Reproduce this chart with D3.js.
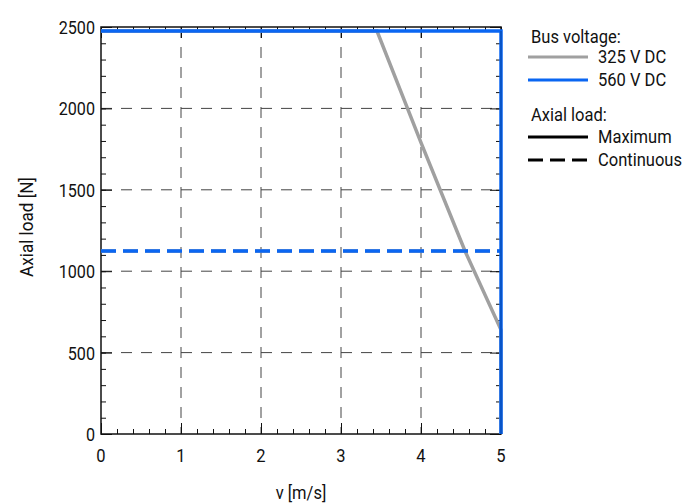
<!DOCTYPE html>
<html>
<head>
<meta charset="utf-8">
<script src="https://cdn.jsdelivr.net/npm/d3@7"></script>
<style>
  body { margin: 0; background: #fff; }
  svg text { font-family: Roboto, sans-serif; fill: #111; font-size: 19px; }
  /* narrow the text the way the condensed face in the reference looks */
  svg text.cs { transform-box: fill-box; transform-origin: left center; transform: scaleX(0.87); }
  svg text.ce { transform-box: fill-box; transform-origin: right center; transform: scaleX(0.85); }
  svg text.cm { transform-box: fill-box; transform-origin: center center; transform: scaleX(0.87); }
</style>
</head>
<body>
<svg id="chart" width="698" height="504"></svg>
<script>
// values
const xTicks = [0, 1, 2, 3, 4, 5];
const yTicks = [0, 500, 1000, 1500, 2000, 2500];

const v325Max = [[0, 2475], [3.45, 2475], [4, 1790], [4.55, 1124], [5, 640], [5, 0]];
const v325Cont = [[0, 1124], [5, 1124]];
const v560Max = [[0, 2475], [5, 2475], [5, 0]];
const v560Cont = [[0, 1124], [5, 1124]];

const legendVoltage = [
  { label: "325 V DC", color: "#a0a0a0" },
  { label: "560 V DC", color: "#0a66f2" }
];
const legendLoad = [
  { label: "Maximum", dash: null },
  { label: "Continuous", dash: "15,7" }
];

const M = { left: 101, top: 27, right: 501, bottom: 434 };
const svg = d3.select('#chart');
const x = d3.scaleLinear().domain([0, 5]).range([M.left, M.right]);
const y = d3.scaleLinear().domain([0, 2500]).range([M.bottom, M.top]);
const W = M.right - M.left, H = M.bottom - M.top;

// grid
const grid = svg.append('g');
xTicks.slice(1, -1).forEach(t => {
  grid.append('line').attr('x1', x(t)).attr('x2', x(t)).attr('y1', M.top).attr('y2', M.bottom)
    .attr('stroke', '#444').attr('stroke-dasharray', '11,9').attr('stroke-width', 1);
});
yTicks.slice(1, -1).forEach(t => {
  grid.append('line').attr('x1', M.left).attr('x2', M.right).attr('y1', y(t)).attr('y2', y(t))
    .attr('stroke', '#444').attr('stroke-dasharray', '11,9').attr('stroke-width', 1);
});

// ticks inward on all four sides
const xMinor = d3.range(0, 5.001, 0.2);
const yMinor = d3.range(0, 2500.1, 100);
const fmt = d3.format('d');

function ticks(axis, tx, ty, vals, size) {
  svg.append('g').attr('transform', `translate(${tx},${ty})`)
    .call(axis.tickValues(vals).tickSize(-size).tickFormat(''))
    .call(g => g.select('.domain').remove())
    .call(g => g.selectAll('line').attr('stroke', '#111'));
}
ticks(d3.axisBottom(x), 0, M.bottom, xMinor, 5);
ticks(d3.axisTop(x), 0, M.top, xMinor, 5);
ticks(d3.axisLeft(y), M.left, 0, yMinor, 5);
ticks(d3.axisRight(y), M.right, 0, yMinor, 5);
ticks(d3.axisBottom(x), 0, M.bottom, xTicks, 11);
ticks(d3.axisTop(x), 0, M.top, xTicks, 11);
ticks(d3.axisLeft(y), M.left, 0, yTicks, 11);
ticks(d3.axisRight(y), M.right, 0, yTicks, 11);

// tick labels
svg.append('g').selectAll('text').data(xTicks).join('text')
  .attr('class', 'cm').attr('x', d => x(d)).attr('y', 462)
  .attr('text-anchor', 'middle').text(fmt);
svg.append('g').selectAll('text').data(yTicks).join('text')
  .attr('class', 'ce').attr('x', 95).attr('y', d => y(d) + 7)
  .attr('text-anchor', 'end').text(fmt);

// frame under the series
svg.append('rect').attr('x', M.left).attr('y', M.top).attr('width', W).attr('height', H)
  .attr('fill', 'none').attr('stroke', '#111').attr('stroke-width', 1.5);

// series
const line = d3.line().x(d => x(d[0])).y(d => y(d[1]));
const series = [
  { data: v325Cont, color: legendVoltage[0].color, dash: legendLoad[1].dash },
  { data: v325Max, color: legendVoltage[0].color, dash: null },
  { data: v560Cont, color: legendVoltage[1].color, dash: legendLoad[1].dash },
  { data: v560Max, color: legendVoltage[1].color, dash: null }
];
series.forEach(s => {
  svg.append('path').datum(s.data).attr('d', line)
    .attr('fill', 'none').attr('stroke', s.color).attr('stroke-width', 3.5)
    .attr('stroke-dasharray', s.dash);
});

// faint frame edge showing through the blue on the right
svg.append('line').attr('x1', M.right).attr('x2', M.right).attr('y1', y(2475)).attr('y2', M.bottom)
  .attr('stroke', '#000').attr('stroke-width', 1).attr('stroke-opacity', 0.35);

// axis titles
svg.append('text').attr('class', 'cm').attr('x', (M.left + M.right) / 2).attr('y', 499)
  .attr('text-anchor', 'middle').text('v [m/s]');
svg.append('text').attr('transform', `translate(33,227) rotate(-90) scale(0.9,1)`)
  .attr('text-anchor', 'middle').text('Axial load [N]');

// legend
const lg = svg.append('g');
lg.append('text').attr('class', 'cs').attr('x', 531).attr('y', 43).text('Bus voltage:');
legendVoltage.forEach((d, i) => {
  const ly = 57 + i * 23;
  lg.append('line').attr('x1', 528).attr('x2', 588).attr('y1', ly).attr('y2', ly)
    .attr('stroke', d.color).attr('stroke-width', 3);
  lg.append('text').attr('class', 'cs').attr('x', 598).attr('y', ly + 6).text(d.label);
});
lg.append('text').attr('class', 'cs').attr('x', 531).attr('y', 121).text('Axial load:');
legendLoad.forEach((d, i) => {
  const ly = 137 + i * 23;
  lg.append('line').attr('x1', 528).attr('x2', 588).attr('y1', ly).attr('y2', ly)
    .attr('stroke', '#000').attr('stroke-width', 3).attr('stroke-dasharray', d.dash);
  lg.append('text').attr('class', 'cs').attr('x', 598).attr('y', ly + 6).text(d.label);
});
</script>
</body>
</html>
